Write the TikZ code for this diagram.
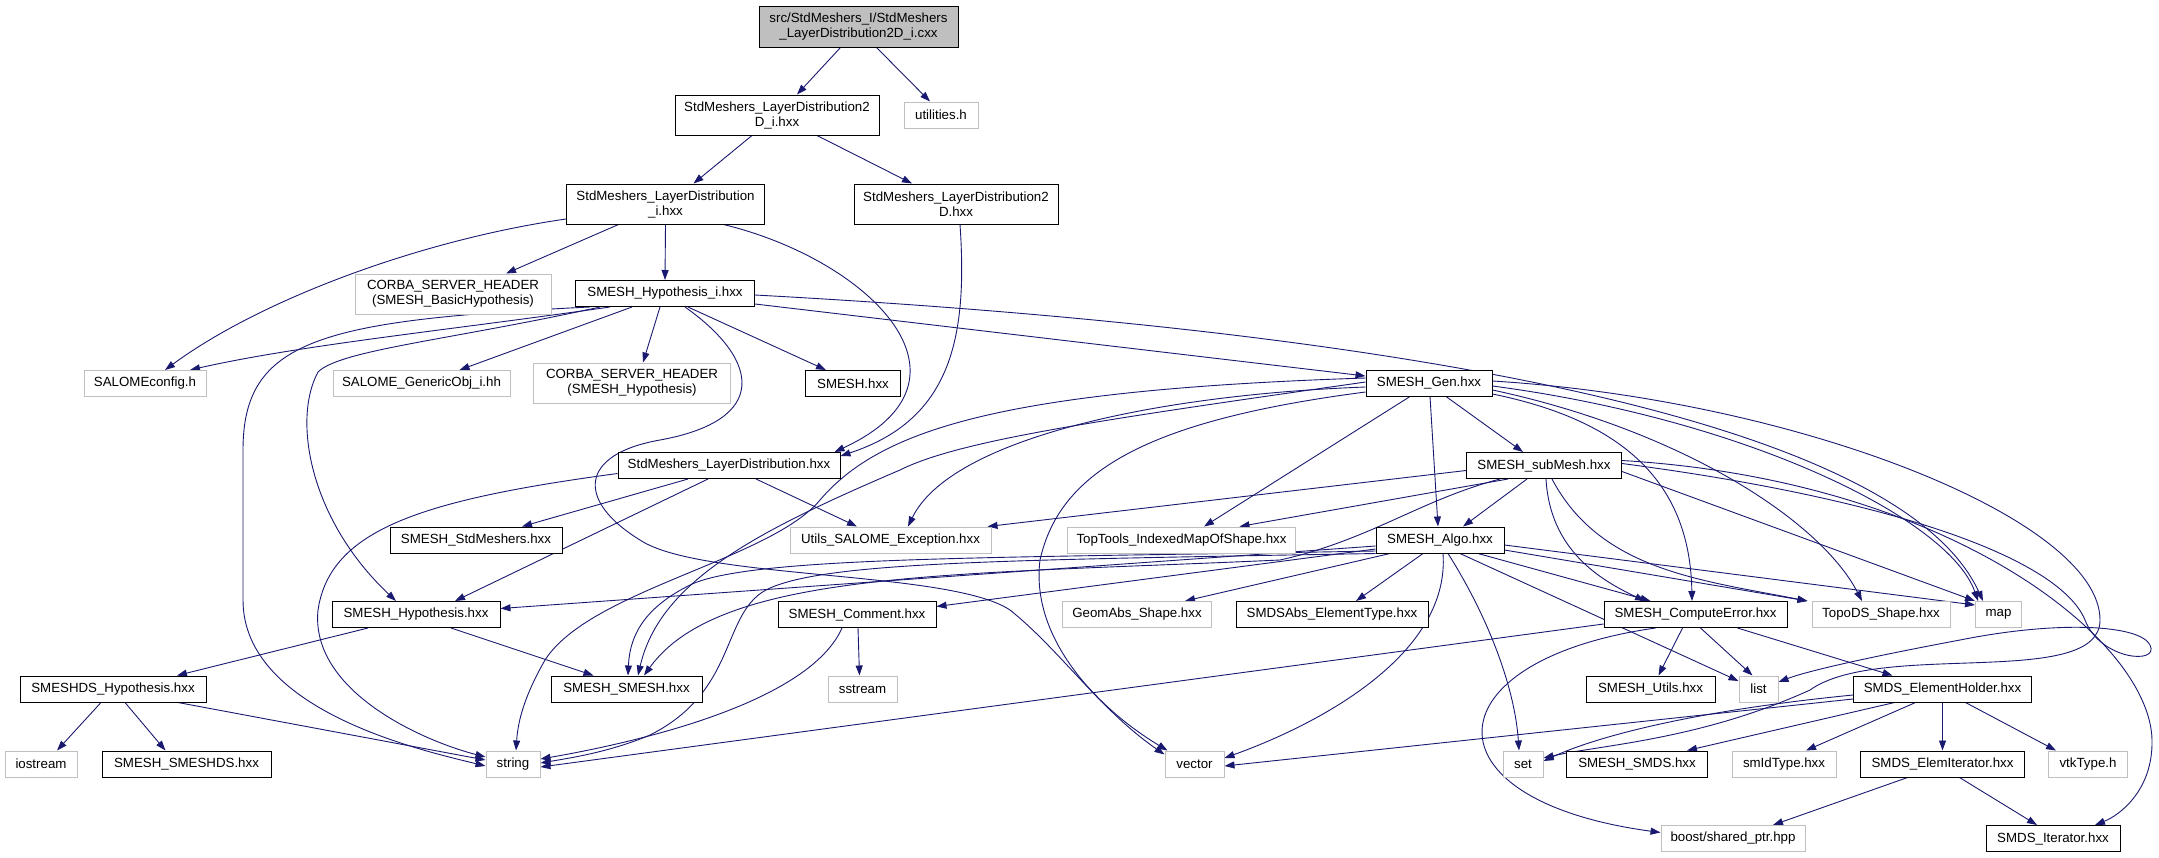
\documentclass[tikz,border=0pt]{standalone}
\usepackage{fontspec}
\setmainfont{Liberation Sans}
\usetikzlibrary{arrows.meta}
\pgfdeclarelayer{bg}
\pgfsetlayers{bg,main}
\definecolor{edgecol}{HTML}{191970}
\definecolor{grayb}{HTML}{BFBFBF}
\begin{document}
\begin{tikzpicture}[x=1pt,y=-1pt,
  nd/.style={draw=black, line width=1pt, fill=white, inner sep=0pt, align=center,
    font=\fontsize{13.3}{15}\selectfont, minimum height=26pt},
  gry/.style={nd, draw=grayb},
  dep/.style={draw=edgecol, line width=0.9pt, -{Triangle[length=10pt,width=7pt]}},
]
\useasboundingbox (0,0) rectangle (2159,857);

% ---------- nodes ----------
\node[nd, fill=grayb, minimum width=199pt, minimum height=41pt] (root) at (858.5,26.5) {src/StdMeshers\_I/StdMeshers\\\_LayerDistribution2D\_i.cxx};
\node[nd, minimum width=204pt, minimum height=40pt] (ld2di) at (777,115) {StdMeshers\_LayerDistribution2\\D\_i.hxx};
\node[gry, minimum width=74pt] (util) at (941,115) {utilities.h};
\node[nd, minimum width=198pt, minimum height=40pt] (ldi) at (665.5,204) {StdMeshers\_LayerDistribution\\\_i.hxx};
\node[nd, minimum width=204pt, minimum height=40pt] (ld2d) at (956,204) {StdMeshers\_LayerDistribution2\\D.hxx};
\node[gry, minimum width=196pt, minimum height=40pt] (corbaB) at (453,294) {CORBA\_SERVER\_HEADER\\(SMESH\_BasicHypothesis)};
\node[nd, minimum width=179pt] (hypi) at (665,293.5) {SMESH\_Hypothesis\_i.hxx};
\node[gry, minimum width=122pt] (salcfg) at (145,383.5) {SALOMEconfig.h};
\node[gry, minimum width=177pt] (genobj) at (421.5,383.5) {SALOME\_GenericObj\_i.hh};
\node[gry, minimum width=197pt, minimum height=40pt] (corbaH) at (632,383) {CORBA\_SERVER\_HEADER\\(SMESH\_Hypothesis)};
\node[nd, minimum width=95pt] (smeshhxx) at (853,383.5) {SMESH.hxx};
\node[nd, minimum width=126pt] (gen) at (1429,383) {SMESH\_Gen.hxx};
\node[nd, minimum width=222pt] (ldhxx) at (729,465.5) {StdMeshers\_LayerDistribution.hxx};
\node[nd, minimum width=155pt] (submesh) at (1544,465.5) {SMESH\_subMesh.hxx};
\node[nd, minimum width=172pt] (stdmesh) at (476,540) {SMESH\_StdMeshers.hxx};
\node[gry, minimum width=201pt] (utilsexc) at (890.5,540) {Utils\_SALOME\_Exception.hxx};
\node[gry, minimum width=228pt] (toptools) at (1181.5,540) {TopTools\_IndexedMapOfShape.hxx};
\node[nd, minimum width=128pt] (algo) at (1440,540) {SMESH\_Algo.hxx};
\node[nd, minimum width=168pt] (hyphxx) at (416,614.5) {SMESH\_Hypothesis.hxx};
\node[nd, minimum width=158pt] (comment) at (857,614.5) {SMESH\_Comment.hxx};
\node[gry, minimum width=149pt] (geomabs) at (1137,614.5) {GeomAbs\_Shape.hxx};
\node[nd, minimum width=192pt] (smdsabs) at (1332,614.5) {SMDSAbs\_ElementType.hxx};
\node[nd, minimum width=183pt] (comperr) at (1695.5,614.5) {SMESH\_ComputeError.hxx};
\node[gry, minimum width=138pt] (topods) at (1881,614.5) {TopoDS\_Shape.hxx};
\node[gry, minimum width=46pt] (map) at (1998.5,614.5) {map};
\node[nd, minimum width=186pt] (smeshdsh) at (113,689) {SMESHDS\_Hypothesis.hxx};
\node[nd, minimum width=151pt] (smeshsmesh) at (626.5,689) {SMESH\_SMESH.hxx};
\node[gry, minimum width=69pt] (sstream) at (862.5,689) {sstream};
\node[nd, minimum width=129pt] (utils) at (1650.5,689) {SMESH\_Utils.hxx};
\node[gry, minimum width=39pt] (list) at (1758.5,689) {list};
\node[nd, minimum width=178pt] (elemholder) at (1942.5,689) {SMDS\_ElementHolder.hxx};
\node[gry, minimum width=72pt] (iostream) at (41,764) {iostream};
\node[nd, minimum width=169pt] (smeshds) at (186.5,764) {SMESH\_SMESHDS.hxx};
\node[gry, minimum width=54pt] (string) at (513,764) {string};
\node[gry, minimum width=59pt] (vector) at (1194.5,764) {vector};
\node[gry, minimum width=40pt] (set) at (1523,764) {set};
\node[nd, minimum width=141pt] (smeshsmds) at (1637,764) {SMESH\_SMDS.hxx};
\node[gry, minimum width=104pt] (smid) at (1784,764) {smIdType.hxx};
\node[nd, minimum width=164pt] (elemit) at (1942.5,764) {SMDS\_ElemIterator.hxx};
\node[gry, minimum width=79pt] (vtk) at (2088,764) {vtkType.h};
\node[gry, minimum width=144pt] (boost) at (1733,838.5) {boost/shared\_ptr.hpp};
\node[nd, minimum width=134pt] (smdsit) at (2053,838.5) {SMDS\_Iterator.hxx};

% ---------- edges ----------
\begin{pgfonlayer}{bg}
\draw[dep] ([xshift=-18]root.south) -- ([xshift=20]ld2di.north);
\draw[dep] ([xshift=18]root.south) -- ([xshift=-11]util.north);
\draw[dep] ([xshift=-25]ld2di.south) -- ([xshift=28]ldi.north);
\draw[dep] ([xshift=40]ld2di.south) -- ([xshift=-44]ld2d.north);
\draw[dep] ([yshift=-15]ldi.west) .. controls (420,240) and (260,300) .. ([xshift=20]salcfg.north);
\draw[dep] ([xshift=-47]ldi.south) -- ([xshift=53]corbaB.north);
\draw[dep] (ldi.south) -- (hypi.north);
\draw[dep] ([xshift=58]ldi.south) .. controls (870,260) and (990,380) .. ([xshift=-6]ldhxx.north east);
\draw[dep] ([xshift=4]ld2d.south) .. controls (968,340) and (950,420) .. ([yshift=-4]ldhxx.north east);

% SMESH_Hypothesis_i.hxx
\draw[dep] ([xshift=-55]hypi.south) .. controls (450,330) and (300,345) .. ([xshift=45]salcfg.north);
\draw[dep] ([xshift=-33]hypi.south) -- ([xshift=38]genobj.north);
\draw[dep] ([xshift=-5]hypi.south) -- ([xshift=11]corbaH.north);
\draw[dep] ([xshift=23]hypi.south) -- ([xshift=-27]smeshhxx.north);
\draw[dep] ([yshift=3]hypi.south east) -- ([yshift=7]gen.west);
\draw[dep] ([yshift=-1.5]hypi.east) .. controls (1400,330) and (1900,420) .. ([xshift=8]map.north west);
\draw[dep] ([xshift=-75]hypi.south) .. controls (320,320) and (243,340) .. (243,450) -- (243,600) .. controls (243,710) and (420,750) .. ([yshift=-2]string.west);
\draw[dep] ([xshift=-65]hypi.south) .. controls (450,340) and (340,350) .. (318,372) .. controls (292,420) and (310,520) .. ([xshift=-20]hyphxx.north);
\draw[dep] ([xshift=20]hypi.south) .. controls (760,360) and (770,420) .. (660,440) .. controls (580,454) and (575,500) .. (640,540) .. controls (700,580) and (950,570) .. (1010,610) .. controls (1060,650) and (1100,710) .. ([yshift=-4]vector.north west);

% StdMeshers_LayerDistribution.hxx
\draw[dep] ([xshift=-41]ldhxx.south) -- ([xshift=46]stdmesh.north);
\draw[dep] ([xshift=-21]ldhxx.south) -- ([xshift=39]hyphxx.north);
\draw[dep] ([xshift=27]ldhxx.south) -- ([xshift=-33.5]utilsexc.north);
\draw[dep] ([yshift=-8]ldhxx.west) .. controls (420,500) and (330,530) .. (318,610) .. controls (310,690) and (420,740) .. ([yshift=7]string.west);

% SMESH_Gen.hxx
\draw[dep] ([xshift=17]gen.south) -- ([xshift=-21]submesh.north);
\draw[dep] ([xshift=1]gen.south) -- ([xshift=-2]algo.north);
\draw[dep] ([xshift=-19]gen.south) -- ([xshift=22.5]toptools.north);
\draw[dep] ([yshift=-4]gen.west) .. controls (1150,395) and (950,440) .. ([xshift=17.5]utilsexc.north);
\draw[dep] ([yshift=1]gen.west) .. controls (1100,420) and (960,440) .. (900,470) .. controls (760,530) and (660,580) .. ([xshift=11.5]smeshsmesh.north);
\draw[dep] ([yshift=5]gen.west) .. controls (1000,390) and (880,430) .. (820,500) .. controls (770,560) and (590,590) .. (545,660) .. controls (525,695) and (518,720) .. ([xshift=3]string.north);
\draw[dep] ([yshift=-9]gen.west) .. controls (1150,420) and (1060,470) .. (1040,560) .. controls (1030,640) and (1100,710) .. ([xshift=3]vector.north west);
\draw[dep] ([yshift=-11]gen.east) .. controls (1620,420) and (1690,480) .. ([xshift=-3.5]comperr.north);
\draw[dep] ([yshift=-7]gen.east) .. controls (1680,430) and (1820,520) .. ([xshift=-19]topods.north);
\draw[dep] ([yshift=-3]gen.east) .. controls (1750,420) and (1950,520) .. ([xshift=3]map.north west);
\draw[dep] ([yshift=2]gen.east) .. controls (1800,400) and (2100,520) .. (2100,620) .. controls (2100,690) and (1880,640) .. (1810,690) .. controls (1700,740) and (1600,745) .. ([yshift=6]set.east);

% SMESH_subMesh.hxx
\draw[dep] ([yshift=-5]submesh.west) -- ([xshift=-4]utilsexc.north east);
\draw[dep] ([xshift=-36]submesh.south) -- ([xshift=58]toptools.north);
\draw[dep] ([xshift=-17]submesh.south) -- ([xshift=23]algo.north);
\draw[dep] ([xshift=-44]submesh.south) .. controls (1420,500) and (1370,540) .. (1280,560) .. controls (950,575) and (720,570) .. ([xshift=17.5]smeshsmesh.north);
\draw[dep] ([xshift=2]submesh.south) .. controls (1550,550) and (1600,580) .. ([xshift=-50.5]comperr.north);
\draw[dep] ([xshift=8]submesh.south) .. controls (1600,570) and (1700,580) .. ([xshift=-4]topods.north west);
\draw[dep] ([yshift=-6]submesh.east) -- (map.north west);
\draw[dep] ([yshift=2]submesh.east) .. controls (1900,500) and (2060,560) .. (2085,620) .. controls (2100,660) and (2160,665) .. (2150,645) .. controls (2140,625) and (2060,620) .. (1960,640) .. controls (1880,655) and (1810,670) .. ([yshift=7]list.east);
\draw[dep] ([yshift=5]submesh.east) .. controls (1950,480) and (2150,640) .. (2152,740) .. controls (2153,790) and (2120,815) .. ([xshift=42]smdsit.north);

% SMESH_Algo.hxx
\draw[dep] ([yshift=-6]algo.west) -- ([yshift=6]hyphxx.east);
\draw[dep] ([yshift=-9]algo.west) -- ([yshift=8]comment.east);
\draw[dep] ([yshift=-11]algo.west) .. controls (1000,558) and (750,556) .. (690,585) .. controls (650,605) and (630,630) .. ([xshift=1.5]smeshsmesh.north);
\draw[dep] (algo.south west) .. controls (1000,560) and (830,562) .. (770,588) .. controls (720,610) and (740,690) .. (650,735) .. controls (610,752) and (570,758) .. ([yshift=1]string.east);
\draw[dep] ([xshift=-50]algo.south) -- ([xshift=48]geomabs.north);
\draw[dep] ([xshift=-17]algo.south) -- ([xshift=24]smdsabs.north);
\draw[dep] ([xshift=3]algo.south) .. controls (1450,650) and (1330,720) .. ([yshift=6]vector.east);
\draw[dep] ([xshift=8]algo.south) .. controls (1490,620) and (1515,690) .. ([xshift=-4]set.north);
\draw[dep] ([xshift=20]algo.south) -- ([yshift=8]list.west);
\draw[dep] ([xshift=38]algo.south) -- ([xshift=-45]comperr.north);
\draw[dep] ([yshift=-10]algo.east) -- ([xshift=-4]topods.north west);
\draw[dep] ([yshift=-5]algo.east) -- ([yshift=-4]map.north west);

% SMESH_ComputeError.hxx
\draw[dep] ([yshift=4]comperr.south west) -- ([yshift=-3]string.east);
\draw[dep] ([xshift=-13]comperr.south) -- ([xshift=8]utils.north);
\draw[dep] ([xshift=5]comperr.south) -- ([xshift=-6]list.north);
\draw[dep] ([xshift=42]comperr.south) -- ([xshift=-50]elemholder.north);
\draw[dep] ([xshift=-40]comperr.south) .. controls (1430,660) and (1420,800) .. ([yshift=6]boost.west);

% SMDS_ElementHolder.hxx
\draw[dep] ([yshift=-10]elemholder.west) -- ([yshift=-2]vector.east);
\draw[dep] ([yshift=-6]elemholder.west) .. controls (1700,710) and (1600,735) .. ([yshift=3]set.east);
\draw[dep] ([xshift=-48]elemholder.south) -- ([xshift=50]smeshsmds.north);
\draw[dep] ([xshift=-27]elemholder.south) -- ([xshift=22]smid.north);
\draw[dep] (elemholder.south) -- (elemit.north);
\draw[dep] ([xshift=23]elemholder.south) -- ([xshift=-32]vtk.north);

% SMDS_ElemIterator.hxx
\draw[dep] ([xshift=-35]elemit.south) -- ([xshift=40]boost.north);
\draw[dep] ([xshift=17]elemit.south) -- ([xshift=-16]smdsit.north);

% SMESH_Comment.hxx
\draw[dep] ([xshift=-15]comment.south) .. controls (810,700) and (650,740) .. ([yshift=5]string.east);
\draw[dep] ([xshift=1]comment.south) -- ([xshift=-3]sstream.north);

% SMESH_Hypothesis.hxx
\draw[dep] ([xshift=-48]hyphxx.south) -- ([xshift=64]smeshdsh.north);
\draw[dep] ([xshift=35]hyphxx.south) -- ([xshift=-33]smeshsmesh.north);

% SMESHDS_Hypothesis.hxx
\draw[dep] ([xshift=-12]smeshdsh.south) -- ([xshift=16]iostream.north);
\draw[dep] ([xshift=12]smeshdsh.south) -- ([xshift=-21]smeshds.north);
\draw[dep] ([xshift=65]smeshdsh.south) -- ([yshift=4]string.west);
\end{pgfonlayer}
\end{tikzpicture}
\end{document}
